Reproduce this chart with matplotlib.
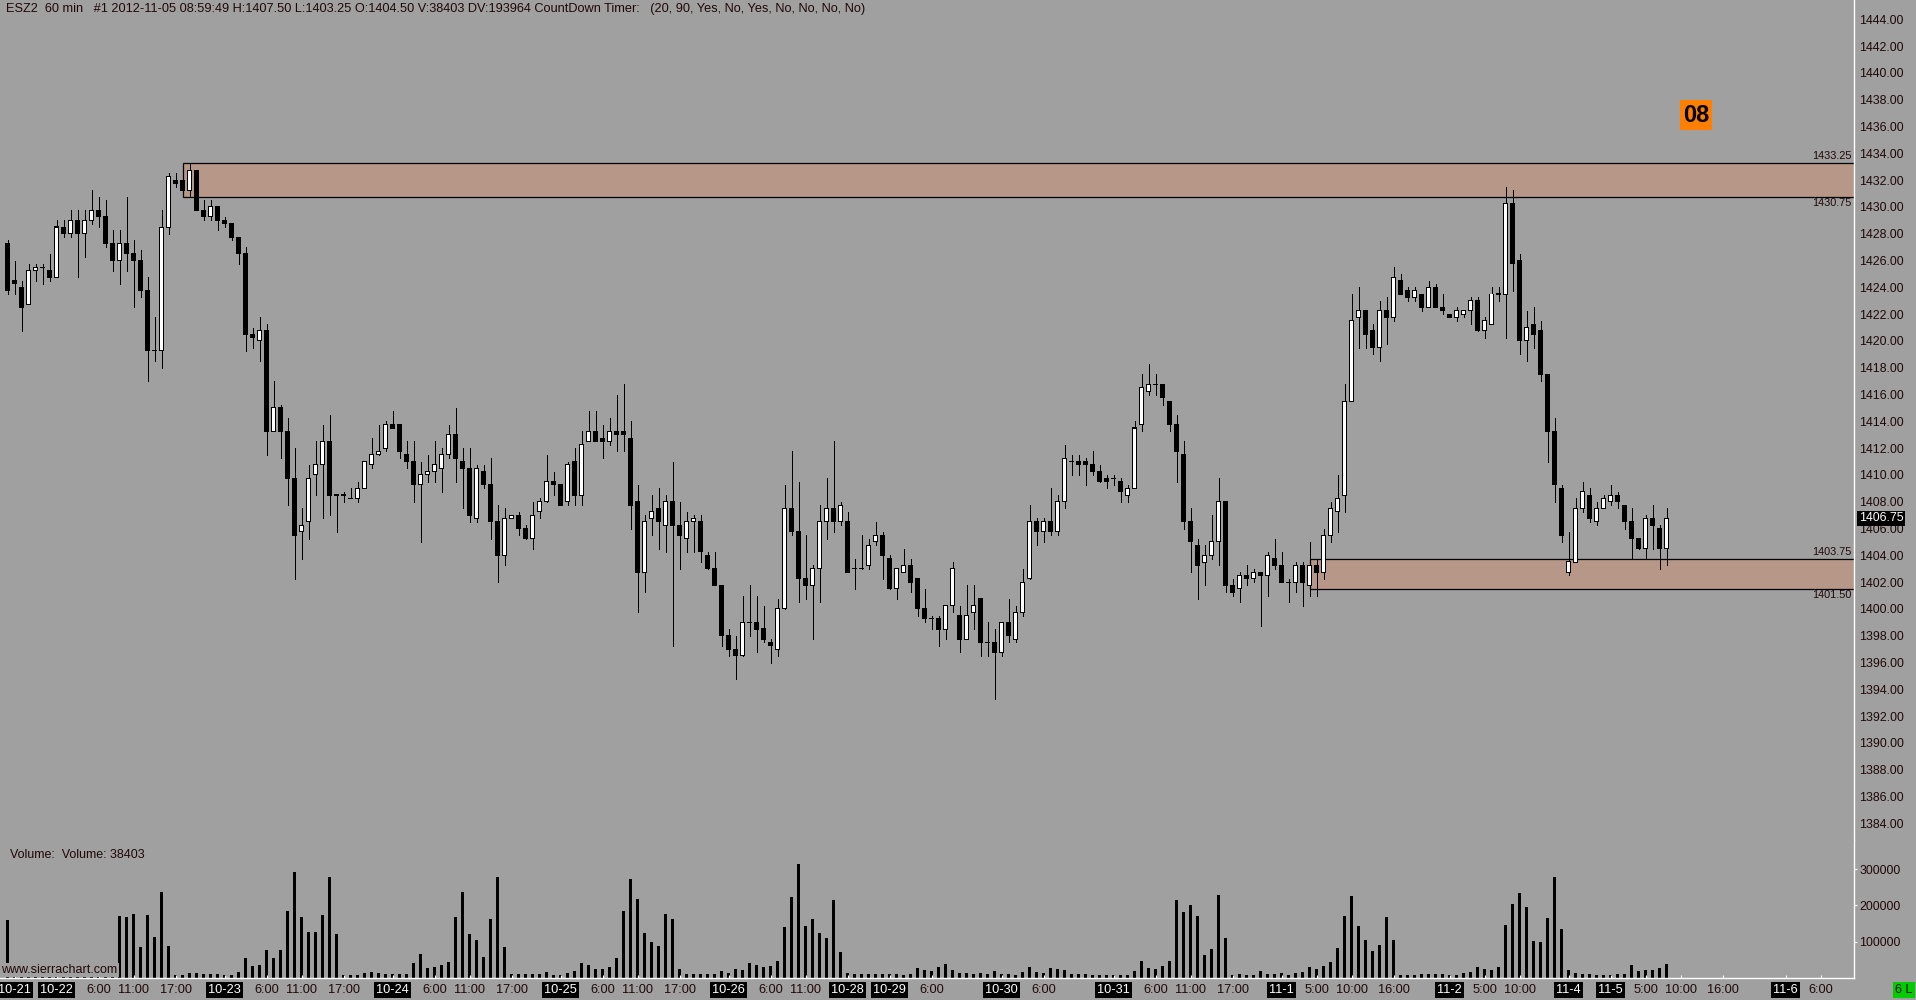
import numpy as np
import matplotlib
matplotlib.use("Agg")
import matplotlib.pyplot as plt
from matplotlib.patches import Rectangle
from matplotlib.transforms import blended_transform_factory

plt.rcParams['font.family'] = ['Liberation Sans', 'DejaVu Sans']

BG = '#a0a0a0'
TXT = '#200808'
ZONE = '#b69788'

# ESZ2 60 min bars, first bar is the last bar of Friday 10-19 (index -1)
opens = [1427.25,
    1424.5, 1424.0, 1422.75, 1425.25, 1425.5, 1425.25, 1424.75, 1428.5, 1428.0, 1429.0,
    1428.0, 1429.0, 1429.75, 1429.25, 1427.25, 1426.0, 1427.25, 1426.5, 1426.0, 1423.75,
    1419.25, 1419.25, 1428.5, 1432.0, 1432.0, 1431.25, 1432.75, 1429.75, 1429.25, 1430.0,
    1429.0, 1428.75, 1427.75, 1426.5, 1420.5, 1420.0, 1420.75, 1413.25, 1415.0, 1413.25,
    1409.75, 1405.75, 1406.5, 1410.0, 1410.75, 1412.5, 1408.5, 1408.5, 1408.25, 1408.25,
    1409.0, 1410.75, 1411.5, 1412.0, 1413.75, 1413.75, 1411.5, 1411.0, 1409.25, 1410.0,
    1410.25, 1410.5, 1411.5, 1413.0, 1411.0, 1410.5, 1406.75, 1410.25, 1409.25, 1406.5,
    1404.0, 1406.75, 1407.0, 1406.0, 1405.25, 1407.25, 1408.0, 1409.5, 1409.25, 1408.0,
    1411.0, 1408.5, 1412.5, 1413.25, 1412.75, 1412.5, 1413.25, 1413.25, 1412.75, 1408.0,
    1402.75, 1406.75, 1407.5, 1406.25, 1408.0, 1406.25, 1405.25, 1406.5, 1406.5, 1404.0,
    1403.0, 1401.75, 1398.0, 1397.0, 1396.5, 1399.0, 1399.0, 1398.5, 1397.5, 1397.0,
    1400.0, 1407.5, 1405.75, 1402.25, 1401.75, 1403.0, 1406.5, 1407.5, 1406.5, 1406.5,
    1403.0, 1403.0, 1403.25, 1405.0, 1405.5, 1403.75, 1401.5, 1402.75, 1403.25, 1402.25,
    1400.0, 1399.25, 1399.25, 1398.5, 1400.25, 1399.5, 1397.75, 1399.75, 1400.75, 1397.5,
    1397.5, 1396.75, 1399.0, 1397.75, 1399.75, 1402.25, 1406.5, 1405.75, 1406.5, 1405.75,
    1408.0, 1411.0, 1411.0, 1411.0, 1410.75, 1410.25, 1409.75, 1409.75, 1409.5, 1408.5,
    1409.0, 1413.75, 1416.25, 1416.75, 1416.75, 1415.5, 1413.75, 1411.5, 1406.5, 1404.75,
    1403.5, 1404.0, 1405.0, 1408.0, 1401.75, 1401.5, 1402.5, 1402.25, 1402.75, 1402.5,
    1403.75, 1403.25, 1402.0, 1402.0, 1403.25, 1401.75, 1403.25, 1402.75, 1405.5, 1407.25,
    1408.5, 1415.5, 1421.75, 1422.25, 1420.75, 1419.5, 1422.25, 1421.75, 1424.5, 1423.75,
    1423.25, 1423.5, 1422.5, 1424.0, 1422.5, 1422.0, 1421.75, 1422.0, 1422.25, 1423.0,
    1420.75, 1421.25, 1423.5, 1423.5, 1430.25, 1426.0, 1420.0, 1421.25, 1420.75, 1417.5,
    1413.25, 1409.0, 1402.75, 1403.5, 1407.5, 1408.5, 1406.5, 1407.5, 1408.0, 1408.5,
    1407.75, 1406.5, 1405.25, 1404.5, 1406.75, 1406.0, 1404.5]
highs = [1427.5,
    1426.0, 1424.5, 1425.75, 1425.75, 1425.75, 1426.5, 1429.0, 1429.0, 1429.75, 1429.75,
    1429.75, 1431.25, 1430.75, 1430.5, 1428.25, 1428.25, 1430.75, 1427.5, 1426.75, 1424.75,
    1421.75, 1429.75, 1432.5, 1432.5, 1432.25, 1433.25, 1432.75, 1430.5, 1430.5, 1430.0,
    1429.25, 1428.75, 1427.75, 1427.0, 1421.0, 1421.75, 1421.25, 1417.0, 1415.25, 1414.25,
    1412.0, 1407.5, 1410.75, 1412.5, 1413.75, 1414.5, 1408.5, 1408.75, 1409.0, 1409.5,
    1411.0, 1412.75, 1413.75, 1414.0, 1414.75, 1413.75, 1412.5, 1412.5, 1411.0, 1411.5,
    1412.5, 1412.0, 1413.75, 1415.0, 1412.0, 1412.0, 1410.75, 1410.75, 1411.25, 1407.75,
    1407.5, 1407.0, 1407.25, 1406.25, 1408.0, 1408.25, 1411.5, 1410.25, 1409.25, 1411.0,
    1412.0, 1413.25, 1414.75, 1414.75, 1413.75, 1414.25, 1416.0, 1416.75, 1414.0, 1409.25,
    1407.0, 1408.5, 1409.0, 1408.5, 1411.0, 1408.0, 1407.25, 1407.0, 1407.0, 1404.25,
    1404.25, 1401.75, 1398.5, 1398.0, 1401.0, 1401.75, 1401.0, 1400.25, 1397.75, 1400.75,
    1409.25, 1411.75, 1409.5, 1405.5, 1403.25, 1407.75, 1409.75, 1412.5, 1408.0, 1407.25,
    1403.75, 1405.5, 1405.25, 1406.5, 1405.75, 1404.0, 1403.0, 1404.5, 1403.75, 1402.25,
    1401.5, 1399.5, 1399.5, 1400.25, 1403.5, 1400.25, 1401.75, 1401.75, 1400.75, 1399.0,
    1398.5, 1399.0, 1400.75, 1400.25, 1403.0, 1407.75, 1406.75, 1406.75, 1409.0, 1408.5,
    1412.25, 1411.5, 1411.5, 1411.25, 1411.75, 1410.75, 1410.0, 1410.0, 1409.75, 1409.25,
    1414.0, 1417.5, 1418.25, 1417.5, 1416.75, 1415.5, 1414.5, 1412.5, 1407.5, 1405.25,
    1404.75, 1407.0, 1409.75, 1408.0, 1402.25, 1402.75, 1403.25, 1403.0, 1402.75, 1404.25,
    1405.25, 1404.25, 1402.25, 1403.5, 1403.5, 1405.0, 1403.75, 1406.0, 1408.0, 1410.0,
    1416.75, 1423.5, 1424.0, 1422.25, 1421.25, 1423.0, 1423.25, 1425.5, 1425.0, 1424.0,
    1424.0, 1423.5, 1424.5, 1424.25, 1423.5, 1422.0, 1422.5, 1422.25, 1423.25, 1423.25,
    1421.75, 1424.0, 1424.0, 1431.5, 1431.25, 1426.5, 1422.25, 1422.5, 1421.5, 1417.5,
    1414.25, 1409.25, 1405.75, 1408.25, 1409.5, 1409.0, 1408.0, 1408.5, 1409.25, 1408.75,
    1407.75, 1407.5, 1405.25, 1407.0, 1407.75, 1406.25, 1407.5]
lows = [1423.5,
    1423.5, 1420.75, 1422.75, 1424.5, 1424.25, 1424.5, 1424.75, 1427.75, 1427.75, 1424.75,
    1426.25, 1428.75, 1428.5, 1427.0, 1425.25, 1424.25, 1425.25, 1422.5, 1423.25, 1417.0,
    1418.5, 1418.0, 1428.0, 1431.5, 1431.25, 1430.75, 1429.75, 1429.0, 1429.0, 1428.25,
    1428.5, 1427.5, 1425.75, 1419.25, 1419.5, 1418.5, 1411.5, 1413.25, 1411.25, 1407.75,
    1402.25, 1403.75, 1405.25, 1408.5, 1406.75, 1407.0, 1405.75, 1408.0, 1408.25, 1408.0,
    1409.0, 1410.5, 1411.5, 1411.75, 1413.5, 1411.25, 1410.5, 1408.0, 1405.0, 1409.5,
    1409.5, 1408.75, 1411.25, 1409.5, 1407.5, 1406.5, 1406.5, 1409.0, 1405.25, 1402.0,
    1403.25, 1406.75, 1405.5, 1405.25, 1404.5, 1406.75, 1408.0, 1408.5, 1407.75, 1407.75,
    1407.75, 1407.75, 1412.5, 1412.5, 1411.25, 1412.25, 1411.75, 1411.75, 1406.0, 1399.75,
    1401.25, 1405.5, 1404.5, 1404.25, 1397.25, 1403.0, 1404.25, 1404.25, 1403.5, 1403.0,
    1401.75, 1397.25, 1396.5, 1394.75, 1396.5, 1398.0, 1396.75, 1397.5, 1396.0, 1396.5,
    1400.0, 1405.5, 1400.5, 1400.75, 1397.75, 1400.5, 1405.25, 1405.75, 1406.25, 1402.75,
    1401.5, 1403.0, 1403.0, 1404.75, 1402.25, 1401.5, 1400.75, 1402.75, 1401.25, 1399.5,
    1399.0, 1398.5, 1397.25, 1397.75, 1399.75, 1396.75, 1397.75, 1398.5, 1396.5, 1396.5,
    1393.25, 1396.5, 1397.5, 1397.5, 1399.5, 1402.25, 1404.75, 1405.0, 1405.5, 1405.5,
    1407.5, 1410.0, 1410.0, 1409.25, 1410.0, 1409.5, 1409.0, 1409.25, 1408.0, 1408.0,
    1409.0, 1413.25, 1416.0, 1416.0, 1415.25, 1413.25, 1409.5, 1406.0, 1402.75, 1400.75,
    1401.75, 1403.75, 1403.25, 1401.25, 1401.0, 1400.5, 1401.75, 1402.0, 1398.75, 1401.0,
    1403.0, 1402.0, 1400.5, 1401.25, 1400.25, 1401.0, 1401.0, 1402.25, 1405.0, 1405.75,
    1407.25, 1415.5, 1419.5, 1419.5, 1419.0, 1418.5, 1419.75, 1421.5, 1423.5, 1423.0,
    1423.0, 1422.25, 1422.5, 1422.5, 1422.0, 1421.75, 1421.5, 1421.75, 1421.25, 1420.75,
    1420.25, 1421.25, 1423.0, 1420.25, 1423.75, 1419.0, 1418.5, 1419.5, 1417.0, 1411.0,
    1408.0, 1405.0, 1402.5, 1403.5, 1407.25, 1406.5, 1406.25, 1407.5, 1407.75, 1407.5,
    1406.0, 1403.75, 1404.5, 1403.75, 1404.5, 1403.0, 1403.25]
closes = [1423.75,
    1424.25, 1422.5, 1425.25, 1425.5, 1425.5, 1424.75, 1428.5, 1428.0, 1429.0, 1428.0,
    1429.0, 1429.75, 1429.25, 1427.25, 1426.0, 1427.25, 1426.5, 1426.0, 1423.75, 1419.25,
    1419.25, 1428.5, 1432.25, 1431.75, 1431.25, 1432.75, 1429.75, 1429.25, 1430.0, 1429.0,
    1428.75, 1427.75, 1426.5, 1420.5, 1420.25, 1420.75, 1413.25, 1415.0, 1413.25, 1409.75,
    1405.5, 1406.25, 1409.75, 1410.75, 1412.5, 1408.5, 1408.5, 1408.5, 1408.25, 1409.0,
    1411.0, 1411.5, 1411.75, 1413.75, 1413.5, 1411.75, 1411.0, 1409.25, 1410.0, 1410.25,
    1410.75, 1411.5, 1413.0, 1411.25, 1410.5, 1407.0, 1410.5, 1409.25, 1406.5, 1404.0,
    1406.75, 1407.0, 1406.0, 1405.25, 1407.0, 1408.0, 1409.5, 1409.25, 1407.75, 1410.75,
    1408.5, 1412.25, 1413.25, 1412.5, 1412.5, 1413.25, 1413.0, 1413.0, 1407.75, 1402.75,
    1406.5, 1407.25, 1406.5, 1408.0, 1406.25, 1405.5, 1406.5, 1406.75, 1404.25, 1403.0,
    1401.75, 1398.0, 1397.0, 1396.5, 1399.0, 1399.0, 1398.5, 1397.75, 1397.25, 1400.0,
    1407.5, 1405.75, 1402.25, 1401.75, 1403.0, 1406.5, 1407.5, 1406.5, 1407.75, 1402.75,
    1403.0, 1403.0, 1404.75, 1405.5, 1404.0, 1401.5, 1403.0, 1403.25, 1402.0, 1400.0,
    1399.25, 1399.25, 1398.5, 1400.25, 1403.0, 1397.75, 1399.5, 1400.25, 1397.5, 1397.5,
    1396.75, 1399.0, 1398.0, 1399.75, 1402.0, 1406.5, 1405.75, 1406.5, 1405.75, 1408.0,
    1411.25, 1411.0, 1410.75, 1410.75, 1410.25, 1409.5, 1409.5, 1409.75, 1408.75, 1409.0,
    1413.5, 1416.5, 1416.75, 1416.75, 1415.75, 1413.75, 1411.75, 1406.5, 1405.0, 1403.25,
    1404.0, 1405.0, 1408.0, 1401.75, 1401.25, 1402.5, 1402.25, 1402.75, 1402.5, 1404.0,
    1403.25, 1402.0, 1402.0, 1403.25, 1402.0, 1403.25, 1402.75, 1405.5, 1407.5, 1408.25,
    1415.5, 1421.5, 1422.25, 1420.5, 1419.5, 1422.25, 1421.75, 1424.75, 1423.5, 1423.25,
    1423.75, 1422.5, 1424.0, 1422.5, 1422.25, 1421.75, 1422.25, 1422.25, 1423.0, 1420.75,
    1421.5, 1423.5, 1423.5, 1430.25, 1425.75, 1420.0, 1421.0, 1420.5, 1417.5, 1413.25,
    1409.25, 1405.5, 1403.5, 1407.5, 1408.75, 1406.75, 1407.5, 1408.25, 1408.5, 1408.0,
    1406.5, 1405.25, 1404.5, 1406.75, 1406.25, 1404.5, 1406.75]
# volume in thousands of contracts
volumes_k = [160,
    6, 5, 4, 4, 5, 6, 8, 9, 8, 8, 10, 12, 15, 18, 30,
    170, 167, 175, 85, 173, 112, 238, 88,
    8, 8, 13, 13, 10, 10, 10, 8, 8, 16,
    55, 33, 36, 77, 55, 77, 184, 293, 167, 126, 126, 173, 279, 121,
    8, 8, 8, 13, 16, 13, 10, 10, 10, 10,
    41, 66, 27, 30, 36, 44, 167, 238, 121, 104, 58, 162, 279, 85,
    10, 10, 10, 10, 10, 16, 8, 8, 13, 19,
    41, 36, 25, 25, 30, 55, 184, 274, 219, 124, 98, 88, 175, 162, 25,
    10, 10, 10, 10, 10, 19, 13, 25, 22, 41, 36, 30, 33, 46,
    140, 222, 315, 143, 162, 124, 110, 214, 71,
    13, 10, 10, 10, 10, 10, 10, 10, 8, 10,
    27, 22, 19, 30, 38, 22,
    13, 13, 10, 15, 10, 19, 10, 10, 8, 16, 30, 16, 15, 27, 25, 22,
    10, 10, 10, 8, 8, 8, 8, 8, 8,
    19, 46, 27, 26, 33, 46,
    216, 183, 200, 170, 63, 79, 230, 110,
    8, 10, 8, 8, 19, 10, 10, 13, 8, 15, 16, 30, 24, 32, 43,
    82, 170, 227, 142, 104, 74, 90, 167, 104,
    8, 8, 8, 10, 10, 10, 10, 8, 8,
    14, 16, 30, 25, 22, 30,
    145, 205, 233, 197, 101, 99, 164, 279, 135,
    22, 13, 10, 10, 8, 8, 8, 10, 10,
    36, 19, 22, 22, 27, 38.403]

tick_idx = [0, 6, 12, 17, 23, 30, 36, 41, 47, 54, 60, 65, 71, 78, 84, 89, 95,
            102, 108, 113, 119, 125, 131, 141, 147, 157, 163, 168, 174, 181, 186,
            191, 197, 205, 210, 215, 222, 228, 233, 238, 244, 253, 258]
tick_text = ['10-21', '10-22', '6:00', '11:00', '17:00', '10-23', '6:00', '11:00', '17:00',
             '10-24', '6:00', '11:00', '17:00', '10-25', '6:00', '11:00', '17:00',
             '10-26', '6:00', '11:00', '10-28', '10-29', '6:00', '10-30', '6:00',
             '10-31', '6:00', '11:00', '17:00', '11-1', '5:00', '10:00', '16:00',
             '11-2', '5:00', '10:00', '11-4', '11-5', '5:00', '10:00', '16:00',
             '11-6', '6:00']

zone_start = [24, 185]
zone_low = [1430.75, 1401.5]
zone_high = [1433.25, 1403.75]

o = np.array(opens)
h = np.array(highs)
l = np.array(lows)
c = np.array(closes)
v = np.array(volumes_k) * 1000
x = np.arange(-1, len(o) - 1)

# pixel layout of the Sierra Chart window
W, H = 1916, 1000
PLOT_R = 1854
PRICE_BOT = 840
VOL_BOT = 978
X0, DX = 14.5, 7.0        # first bar centre and bar spacing, px
Y1444, PPT = 19.3, 13.4   # row of 1444.00 and px per point
VOL_PX = 0.365            # px per 1000 contracts

fig = plt.figure(figsize=(W / 100, H / 100), dpi=100, facecolor=BG)
axp = fig.add_axes([0, 1 - PRICE_BOT / H, PLOT_R / W, PRICE_BOT / H])
axv = fig.add_axes([0, 1 - VOL_BOT / H, PLOT_R / W, (VOL_BOT - PRICE_BOT) / H])

xl = (-X0 / DX, (PLOT_R - X0) / DX)
for ax in (axp, axv):
    ax.set_facecolor(BG)
    ax.set_xlim(*xl)
    for s in ax.spines.values():
        s.set_visible(False)
    ax.spines['right'].set_visible(True)
    ax.spines['right'].set_color('white')
    ax.spines['right'].set_linewidth(1)

axp.set_ylim(1444 - (PRICE_BOT - Y1444) / PPT, 1444 + Y1444 / PPT)

# supply / demand zones
for xs, lo, hi in zip(zone_start, zone_low, zone_high):
    axp.add_patch(Rectangle((xs, lo), xl[1] - xs + 5, hi - lo, facecolor=ZONE,
                            edgecolor='black', linewidth=0.9, zorder=1))

bt = blended_transform_factory(axp.transAxes, axp.transData)
for hi, lo in zip(zone_high, zone_low):
    axp.annotate(f'{hi:.2f}', xy=(1852 / PLOT_R, hi), xycoords=bt, xytext=(0, 2),
                 textcoords='offset pixels', ha='right', va='bottom', fontsize=7.8, color=TXT)
    axp.annotate(f'{lo:.2f}', xy=(1852 / PLOT_R, lo), xycoords=bt, xytext=(0, -1),
                 textcoords='offset pixels', ha='right', va='top', fontsize=7.8, color=TXT)

# candles: 1px wick, 5px black body, 3px white inside for up bars
py = 1.0 / PPT
up = c > o
axp.vlines(x, l, h, color='black', linewidth=0.72, zorder=3, antialiased=False)
body_lo = np.minimum(o, c) - 0.5 * py
body_hi = np.maximum(o, c) + 0.5 * py
axp.bar(x, body_hi - body_lo, width=5 / DX, bottom=body_lo, color='black',
        linewidth=0, zorder=4, antialiased=False)
axp.bar(x[up], (c - o)[up] - py, width=3 / DX, bottom=o[up] + 0.5 * py,
        color='white', linewidth=0, zorder=5, antialiased=False)

axp.set_xticks([])
axp.yaxis.tick_right()
axp.set_yticks(np.arange(1384, 1445, 2))
axp.set_yticklabels([f'{t:.2f}' for t in np.arange(1384, 1445, 2)])
axp.tick_params(axis='y', length=0, pad=4, labelsize=8.9, labelcolor=TXT)

axp.annotate(f'{closes[-1]:.2f}', xy=(1, closes[-1]), xycoords=bt, xytext=(5, 0),
             textcoords='offset pixels', ha='left', va='center', fontsize=8.9,
             color='white', annotation_clip=False,
             bbox=dict(facecolor='black', edgecolor='none', pad=1.2), zorder=10)

# volume
axv.bar(x, v, width=3 / DX, color='black', linewidth=0, antialiased=False)
axv.set_ylim(0, (978.8 - PRICE_BOT) / VOL_PX * 1000)
axv.yaxis.tick_right()
axv.set_yticks([100000, 200000, 300000])
axv.set_yticklabels(['100000', '200000', '300000'])
axv.tick_params(axis='y', length=2, width=0.8, color='white', pad=2, labelsize=8.9,
                labelcolor=TXT)
axv.spines['bottom'].set_visible(True)
axv.spines['bottom'].set_color('white')
axv.spines['bottom'].set_linewidth(1)

axv.set_xticks(tick_idx)
axv.set_xticklabels(tick_text)
axv.tick_params(axis='x', direction='in', length=2.5, width=0.8, color='white',
                pad=4.5, labelsize=9.2, labelcolor=TXT)
for lab in axv.get_xticklabels():
    if '-' in lab.get_text():
        lab.set_color('white')
        lab.set_bbox(dict(facecolor='black', edgecolor='none', pad=1.6))

# window texts
fig.text(6 / W, 1 - 9 / H,
         'ESZ2  60 min   #1 2012-11-05 08:59:49 H:1407.50 L:1403.25 O:1404.50 '
         'V:38403 DV:193964 CountDown Timer:   (20, 90, Yes, No, Yes, No, No, No, No)',
         ha='left', va='center', fontsize=9.2, color=TXT)
fig.text(10 / W, 1 - 855 / H, 'Volume:  Volume: 38403', ha='left', va='center',
         fontsize=9, color=TXT)
fig.text(1 / W, 1 - 970 / H, 'www.sierrachart.com', ha='left', va='center',
         fontsize=9, color=TXT, zorder=10,
         bbox=dict(facecolor=BG, edgecolor='none', pad=1.0))
fig.text(1696 / W, 1 - 115 / H, '08', ha='center', va='center', fontsize=17,
         fontweight='bold', color='black',
         bbox=dict(facecolor='#ff8000', edgecolor='none', pad=2.3))
fig.text(1904 / W, 1 - 990 / H, '6 L', ha='center', va='center', fontsize=9,
         color=TXT, bbox=dict(facecolor='#00cc00', edgecolor='none', pad=1.6))

fig.savefig('out.png', dpi=100, facecolor=BG)
